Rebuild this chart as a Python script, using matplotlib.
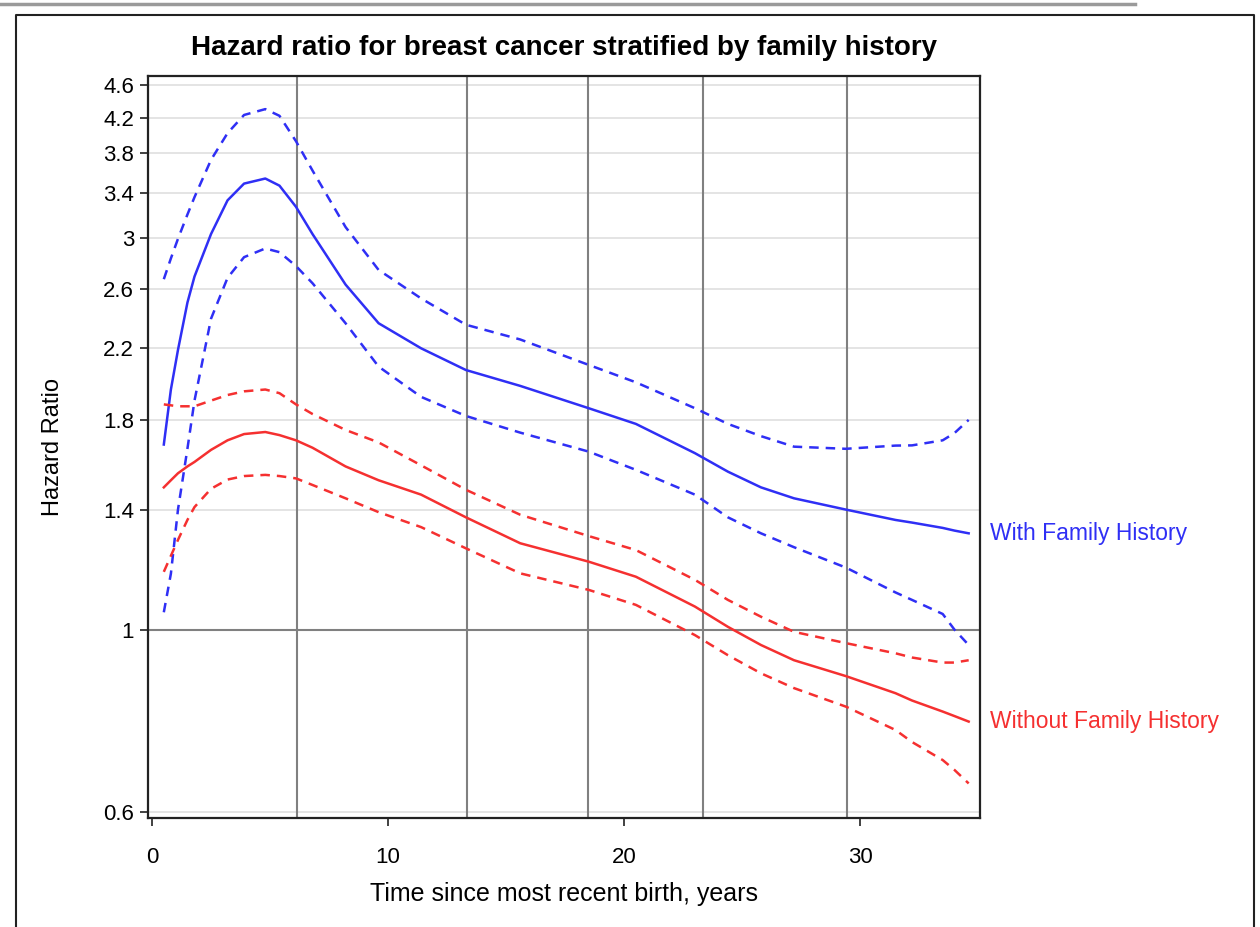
import numpy as np
import matplotlib.pyplot as plt
from matplotlib.lines import Line2D
from matplotlib.ticker import FixedLocator, NullLocator

plt.rcParams['font.family'] = ['Liberation Sans', 'DejaVu Sans']

# time since most recent birth (years)
years = [0.5, 0.8, 1.1, 1.5, 1.8, 2.5, 3.2, 3.9, 4.8, 5.4, 6.1, 6.8, 8.2, 9.6,
         11.4, 13.3, 15.6, 18.5, 20.5, 23.0, 24.4, 25.8, 27.2, 29.4, 31.5, 32.2,
         33.5, 34.0, 34.6]

# with family history: estimate and 95% limits
wfh = [1.68, 1.96, 2.19, 2.50, 2.69, 3.03, 3.33, 3.49, 3.54, 3.47, 3.27, 3.03,
       2.63, 2.36, 2.20, 2.07, 1.98, 1.86, 1.78, 1.64, 1.557, 1.49, 1.445, 1.40,
       1.36, 1.35, 1.33, 1.32, 1.31]
wfh_hi = [2.67, 2.83, 2.99, 3.20, 3.36, 3.73, 4.02, 4.23, 4.30, 4.22, 3.93, 3.62,
          3.09, 2.74, 2.53, 2.35, 2.255, 2.10, 2.00, 1.86, 1.78, 1.72, 1.67, 1.66,
          1.675, 1.676, 1.70, 1.735, 1.80]
wfh_lo = [1.05, 1.17, 1.40, 1.66, 1.90, 2.39, 2.68, 2.84, 2.91, 2.88, 2.77, 2.64,
          2.36, 2.09, 1.92, 1.82, 1.737, 1.647, 1.565, 1.46, 1.37, 1.31, 1.26, 1.19,
          1.11, 1.087, 1.045, 1.00, 0.958]

# without family history
wofh = [1.49, 1.52, 1.55, 1.58, 1.60, 1.655, 1.70, 1.73, 1.74, 1.725, 1.70, 1.665,
        1.58, 1.52, 1.46, 1.37, 1.274, 1.21, 1.16, 1.067, 1.008, 0.958, 0.918, 0.878,
        0.837, 0.82, 0.795, 0.785, 0.773]
wofh_hi = [1.88, 1.875, 1.87, 1.87, 1.87, 1.90, 1.93, 1.95, 1.96, 1.94, 1.88, 1.83,
           1.75, 1.69, 1.585, 1.48, 1.38, 1.30, 1.25, 1.15, 1.087, 1.037, 0.994, 0.963,
           0.936, 0.925, 0.912, 0.912, 0.918]
wofh_lo = [1.176, 1.23, 1.286, 1.36, 1.41, 1.484, 1.523, 1.538, 1.543, 1.538, 1.528, 1.50,
           1.445, 1.39, 1.333, 1.256, 1.171, 1.118, 1.072, 0.985, 0.931, 0.885, 0.849, 0.806,
           0.755, 0.73, 0.694, 0.675, 0.650]

knots = [6.13, 13.33, 18.47, 23.36, 29.43]
yticks = [0.6, 1, 1.4, 1.8, 2.2, 2.6, 3, 3.4, 3.8, 4.2, 4.6]
ytick_labels = ['0.6', '1', '1.4', '1.8', '2.2', '2.6', '3', '3.4', '3.8', '4.2', '4.6']
xticks = [0, 10, 20, 30]

blue = '#2f2ff5'
red = '#f53030'

fig = plt.figure(figsize=(12.6, 9.27), dpi=100)
ax = fig.add_axes([148/1260, 1 - 818/927, (980-148)/1260, (818-76)/927])
ax.set_yscale('log')
ax.set_xlim(-0.17, 35.08)
ax.set_ylim(0.590, 4.718)

# reference lines
for v in yticks:
    if v != 1:
        ax.axhline(v, color='#e2e2e2', lw=1.3, zorder=0)
ax.axhline(1, color='#808080', lw=1.5, zorder=1)
for k in knots:
    ax.axvline(k, color='#808080', lw=1.5, zorder=1)

dash = (3.8, 2.8)
ax.plot(years, wfh, color=blue, lw=1.8, zorder=3)
ax.plot(years, wfh_hi, color=blue, lw=1.8, dashes=dash, zorder=3)
ax.plot(years, wfh_lo, color=blue, lw=1.8, dashes=dash, zorder=3)
ax.plot(years, wofh, color=red, lw=1.8, zorder=3)
ax.plot(years, wofh_hi, color=red, lw=1.8, dashes=dash, zorder=3)
ax.plot(years, wofh_lo, color=red, lw=1.8, dashes=dash, zorder=3)

ax.text(35.5, wfh[-1], 'With Family History', color=blue, fontsize=16.5,
        va='center', ha='left', clip_on=False)
ax.text(35.5, wofh[-1], 'Without Family History', color=red, fontsize=16.5,
        va='center', ha='left', clip_on=False)

ax.yaxis.set_major_locator(FixedLocator(yticks))
ax.yaxis.set_minor_locator(NullLocator())
ax.set_yticklabels(ytick_labels)
ax.set_xticks(xticks)
ax.tick_params(axis='both', labelsize=16, length=6, width=1.3, color='#333333')
ax.tick_params(axis='y', pad=4)
ax.tick_params(axis='x', pad=15)
for s in ax.spines.values():
    s.set_linewidth(1.6)
    s.set_color('#222222')

ax.set_xlabel('Time since most recent birth, years', fontsize=18, labelpad=10)
ax.set_ylabel('Hazard Ratio', fontsize=17, labelpad=28)
ax.set_title('Hazard ratio for breast cancer stratified by family history',
             fontsize=20, fontweight='bold', pad=15)

# outer frame of the original image
fig.add_artist(Line2D([0, 1135/1260], [1 - 4/927, 1 - 4/927], color='#9a9a9a', lw=2.5))
fig.add_artist(Line2D([16/1260, 16/1260, 1254/1260, 1254/1260],
                      [0, 1 - 15/927, 1 - 15/927, 0], color='#222222', lw=1.5))

fig.savefig('out.png', dpi=100)
